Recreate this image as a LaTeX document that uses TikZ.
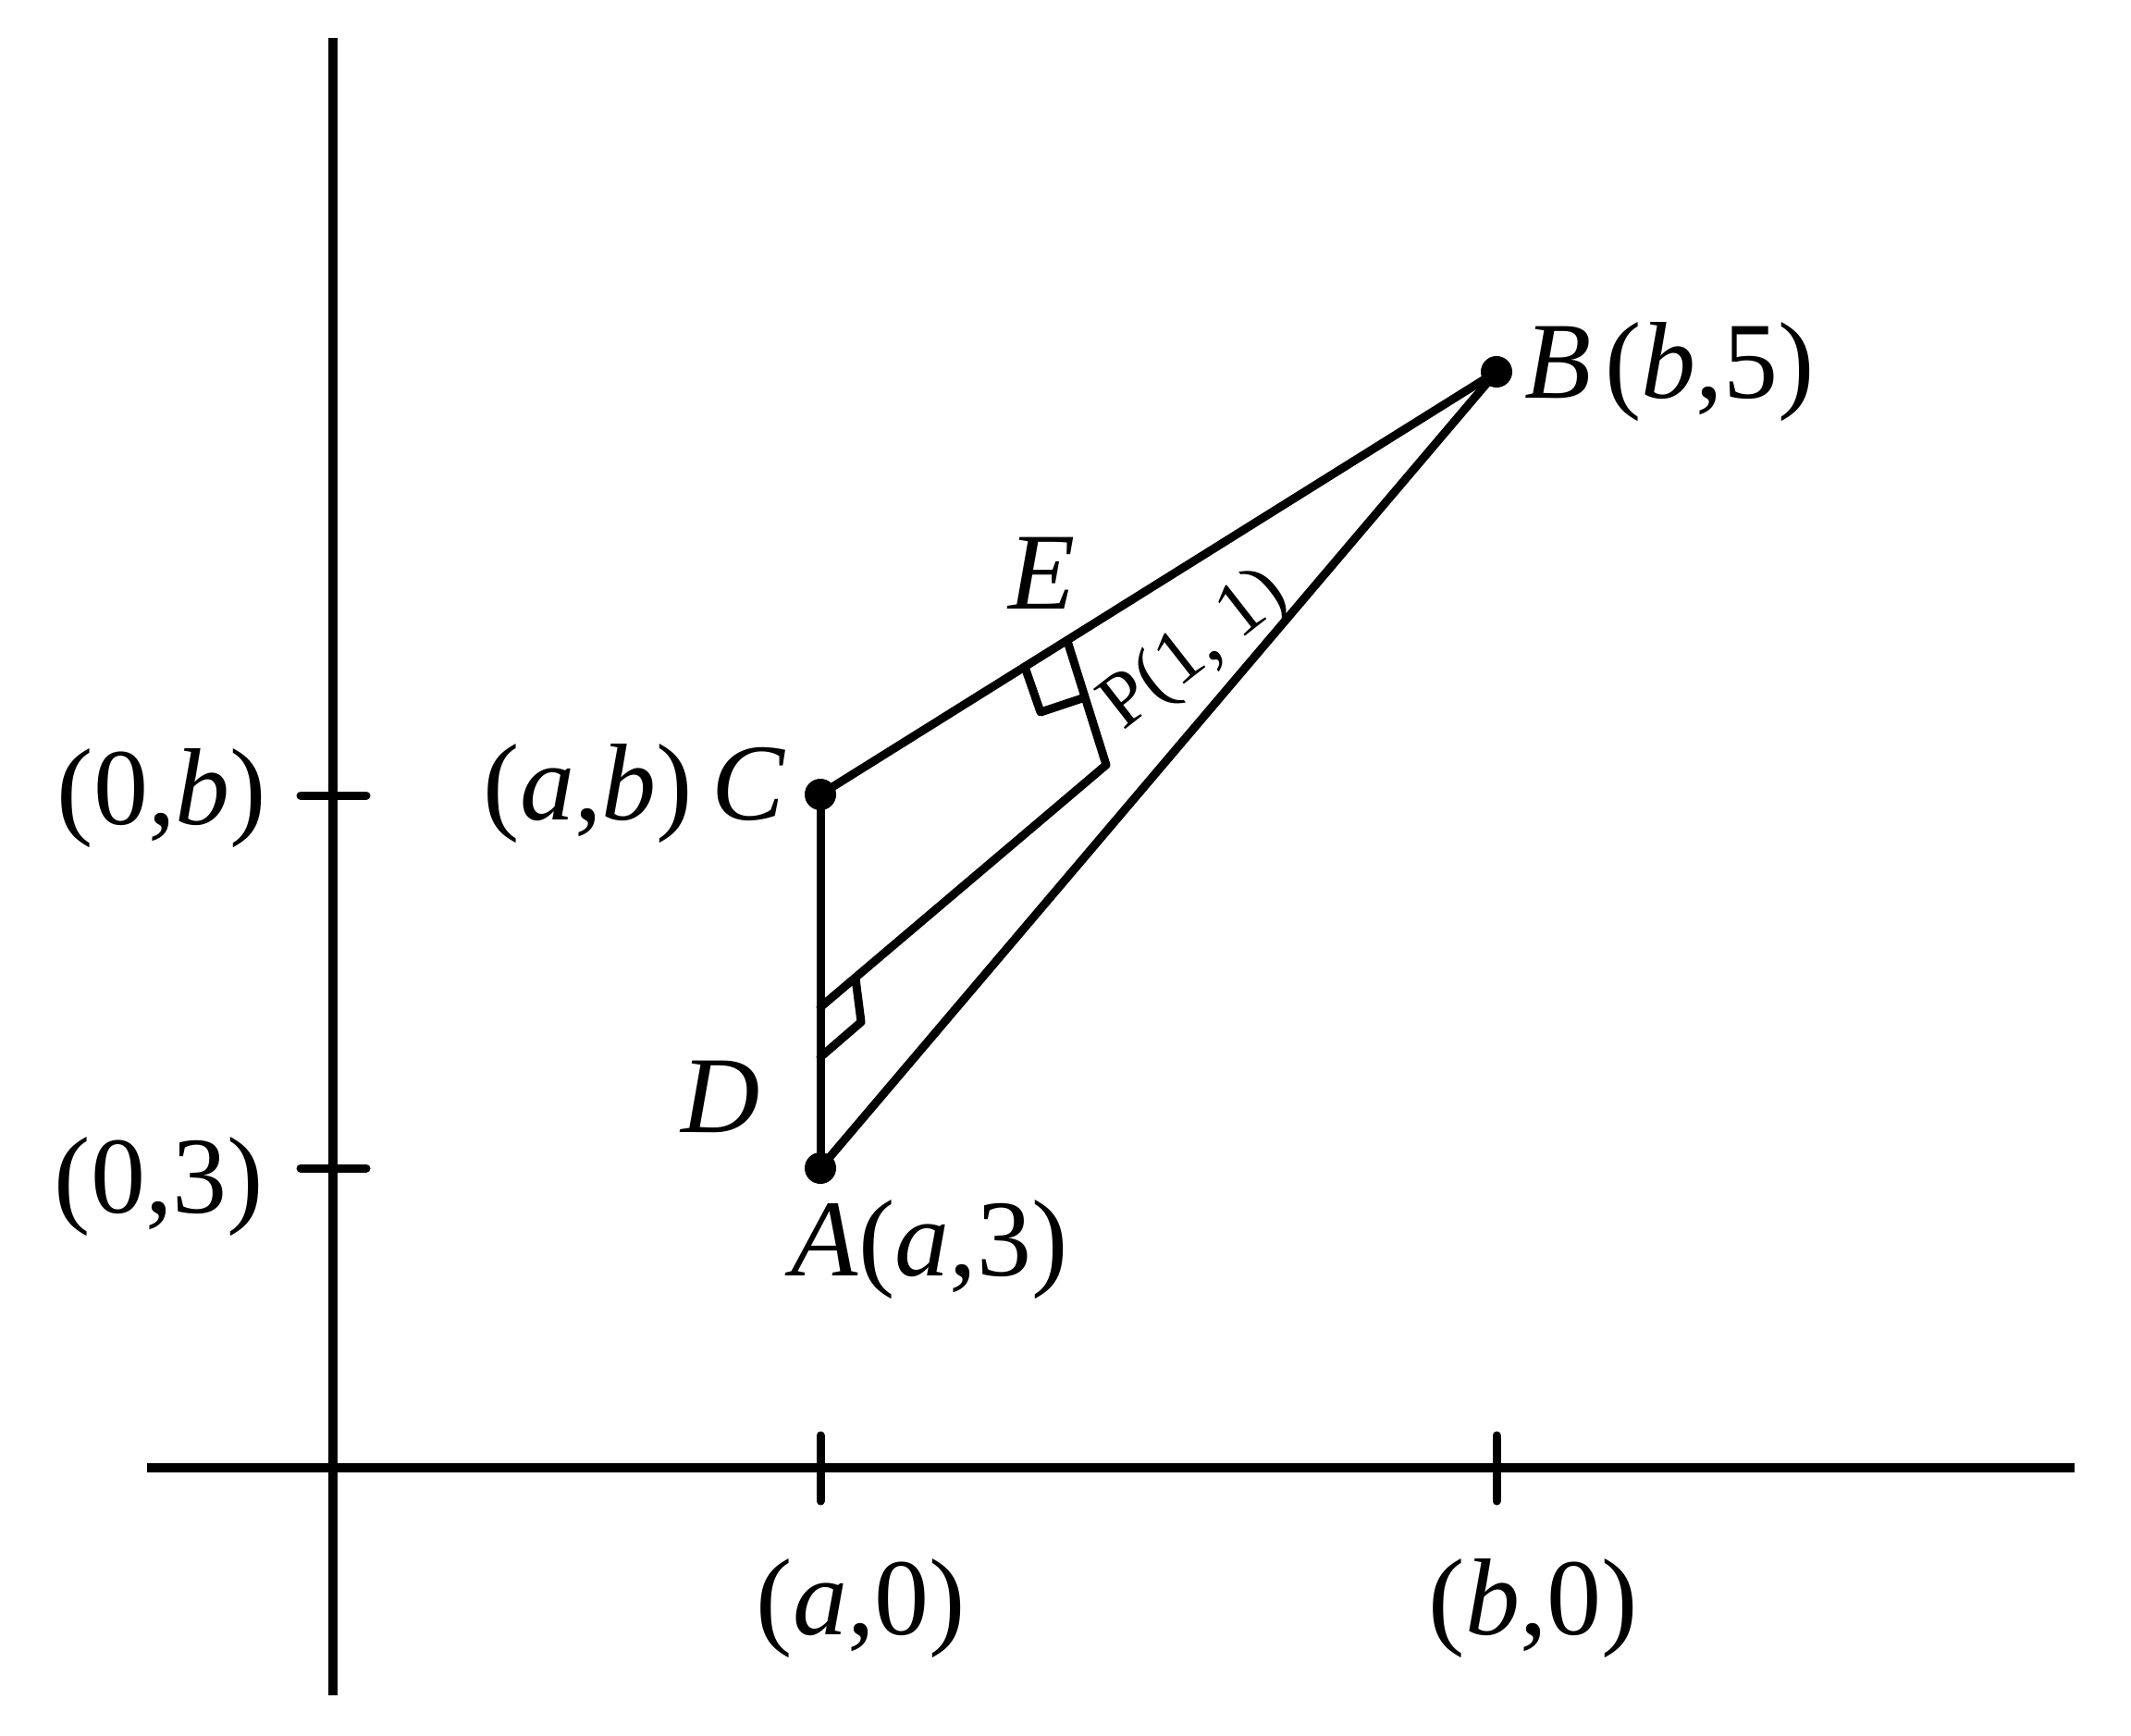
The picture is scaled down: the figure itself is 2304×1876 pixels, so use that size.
\documentclass[tikz,border=0pt]{standalone}
\usepackage{fontspec}
\setmainfont{Liberation Serif}
\begin{document}
\begin{tikzpicture}[x=0.01cm,y=-0.01cm,
  ln/.style={line width=0.09cm, line cap=round, line join=round},
  axisln/.style={line width=0.1cm},
  lbl/.style={inner sep=0pt, font=\fontsize{33.6pt}{40pt}\selectfont},
  plbl/.style={inner sep=0pt, font=\fontsize{24pt}{28pt}\selectfont},
  dotn/.style={circle, fill=black, inner sep=0pt, minimum size=0.34cm}]
\useasboundingbox (0,0) rectangle (2304,1876);
% axes
\coordinate (yt) at (360,41);
\coordinate (yb) at (360,1833);
\coordinate (xl) at (159,1587);
\coordinate (xr) at (2243,1587);
\draw[axisln] (yt) -- (yb);
\draw[axisln] (xl) -- (xr);
% ticks
\coordinate (tb1) at (325,860);  \coordinate (tb2) at (396,860);
\coordinate (t31) at (325,1263); \coordinate (t32) at (396,1263);
\coordinate (ta1) at (887,1552); \coordinate (ta2) at (887,1623);
\coordinate (tbb1) at (1618,1552); \coordinate (tbb2) at (1618,1623);
\draw[ln] (tb1) -- (tb2);
\draw[ln] (t31) -- (t32);
\draw[ln] (ta1) -- (ta2);
\draw[ln] (tbb1) -- (tbb2);
% points
\coordinate (A) at (887,1263);
\coordinate (C) at (887,859);
\coordinate (B) at (1618,402);
\coordinate (P) at (1196,827);
\coordinate (D) at (887,1089);
\coordinate (E) at (1154,693);
\coordinate (e1) at (1108,721);
\coordinate (e2) at (1125,770);
\coordinate (e3) at (1170,755);
\coordinate (d1) at (925,1058);
\coordinate (d2) at (931,1105);
\coordinate (d3) at (887,1143);
% triangle
\draw[ln] (C) -- (B);
\draw[ln] (A) -- (B);
\draw[ln] (C) -- (A);
\draw[ln] (E) -- (P) -- (D);
\draw[ln] (e1) -- (e2) -- (e3);
\draw[ln] (d1) -- (d2) -- (d3);
% dots
\node[dotn] (dA) at (A) {};
\node[dotn] (dB) at (B) {};
\node[dotn] (dC) at (C) {};
% labels
\node[lbl] (l0b) at (175,863) {(0,\textit{b})};
\node[lbl] (l03) at (172,1283) {(0,3)};
\node[lbl] (la0) at (931,1739) {(\textit{a},0)};
\node[lbl] (lb0) at (1658,1739) {(\textit{b},0)};
\node[lbl, anchor=east] (lC) at (850,858) {(\textit{a},\textit{b})\hspace{0.17em}\textit{C}};
\node[lbl, anchor=west] (lB) at (1648,402) {\textit{B}\hspace{0.12em}(\textit{b},5)};
\node[lbl] (lA) at (1005,1351) {\textit{A}(\textit{a},3)};
\node[lbl] (lD) at (779,1186) {\textit{D}};
\node[lbl] (lE) at (1127,620) {\textit{E}};
\node[plbl, rotate=38] (lP) at (1293,704) {P(1, 1)};
\end{tikzpicture}
\end{document}
